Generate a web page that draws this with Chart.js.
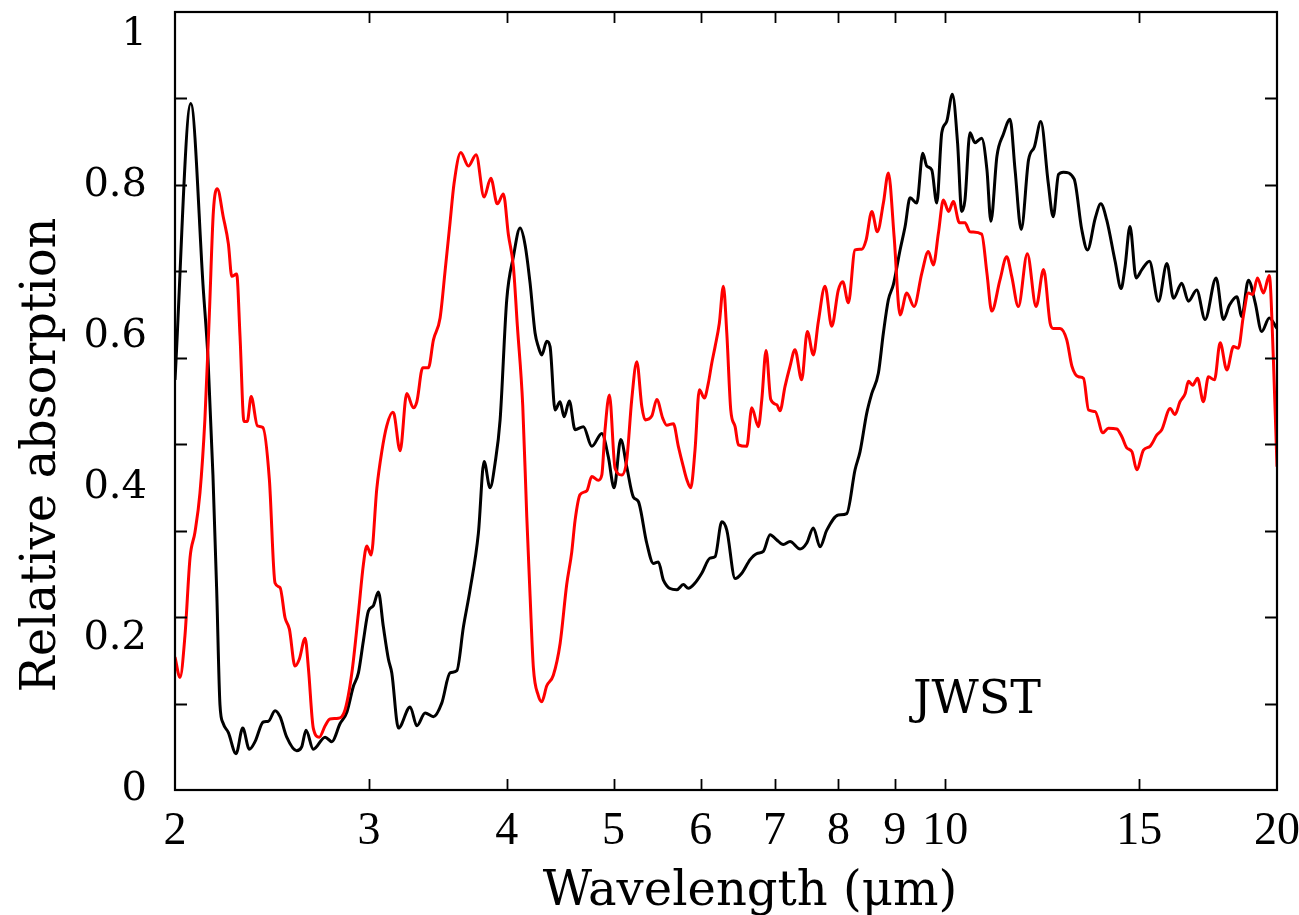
<!DOCTYPE html>
<html>
<head>
<meta charset="utf-8">
<script src="https://cdn.jsdelivr.net/npm/chart.js@4.4.1/dist/chart.umd.min.js"></script>
<style>
  html,body{margin:0;padding:0;background:#fff}
  #wrap{width:1299px;height:915px;position:relative}
</style>
</head>
<body>
<div id="wrap"><canvas id="chart"></canvas></div>
<script>
// Black spectrum (wavelength in um, relative absorption)
const blackWavelength = [2.00,2.067,2.122,2.143,2.165,2.182,2.197,2.212,2.236,2.272,2.304,2.336,2.364,2.405,2.431,2.465,2.491,2.526,2.579,2.606,2.630,2.670,2.737,2.775,2.824,2.864,2.903,2.934,2.965,2.996,3.027,3.059,3.091,3.124,3.146,3.190,3.269,3.315,3.373,3.432,3.492,3.553,3.604,3.654,3.705,3.770,3.815,3.863,3.904,3.945,4.000,4.056,4.113,4.156,4.200,4.244,4.273,4.304,4.349,4.379,4.425,4.472,4.509,4.559,4.614,4.695,4.778,4.879,4.946,5.006,5.076,5.140,5.211,5.266,5.359,5.434,5.491,5.549,5.706,5.785,5.846,5.928,6.012,6.117,6.182,6.269,6.335,6.446,6.537,6.651,6.745,6.838,6.935,7.033,7.129,7.230,7.383,7.487,7.591,7.698,7.807,7.998,8.140,8.282,8.369,8.487,8.577,8.696,8.787,8.879,8.972,9.099,9.195,9.291,9.422,9.541,9.621,9.722,9.824,9.927,10.03,10.15,10.26,10.35,10.42,10.53,10.64,10.79,10.91,11.00,11.14,11.29,11.45,11.57,11.72,11.90,12.05,12.21,12.40,12.53,12.67,12.80,13.09,13.30,13.46,13.68,13.84,14.01,14.26,14.44,14.56,14.71,14.90,15.08,15.32,15.61,15.89,16.11,16.39,16.62,16.91,17.21,17.61,17.88,18.11,18.39,18.58,18.84,19.11,19.37,19.68,20.0];
const blackAbsorption = [0.543,0.909,0.662,0.57,0.417,0.265,0.113,0.088,0.076,0.048,0.082,0.054,0.064,0.09,0.091,0.105,0.097,0.07,0.052,0.057,0.079,0.054,0.07,0.064,0.088,0.103,0.137,0.155,0.198,0.237,0.244,0.262,0.216,0.173,0.155,0.082,0.11,0.085,0.102,0.097,0.115,0.155,0.158,0.216,0.265,0.34,0.435,0.40,0.433,0.49,0.649,0.706,0.744,0.722,0.671,0.605,0.587,0.576,0.594,0.587,0.503,0.514,0.494,0.515,0.477,0.481,0.455,0.472,0.441,0.40,0.464,0.428,0.388,0.382,0.327,0.30,0.302,0.278,0.265,0.272,0.267,0.274,0.287,0.307,0.309,0.355,0.344,0.28,0.287,0.305,0.313,0.316,0.338,0.331,0.325,0.329,0.319,0.327,0.347,0.322,0.344,0.364,0.366,0.424,0.448,0.499,0.525,0.552,0.605,0.649,0.669,0.715,0.746,0.784,0.777,0.843,0.826,0.821,0.777,0.87,0.885,0.921,0.857,0.766,0.781,0.87,0.857,0.863,0.821,0.753,0.839,0.868,0.888,0.821,0.742,0.834,0.852,0.885,0.804,0.759,0.815,0.818,0.809,0.742,0.715,0.757,0.776,0.755,0.70,0.664,0.693,0.746,0.678,0.689,0.70,0.647,0.697,0.651,0.671,0.647,0.662,0.623,0.678,0.623,0.642,0.653,0.627,0.675,0.645,0.607,0.625,0.611];

// Red spectrum
const redWavelength = [2.00,2.021,2.042,2.064,2.085,2.107,2.129,2.149,2.167,2.185,2.212,2.236,2.252,2.275,2.291,2.310,2.326,2.345,2.376,2.403,2.436,2.465,2.491,2.517,2.540,2.570,2.593,2.625,2.643,2.670,2.704,2.737,2.765,2.814,2.853,2.894,2.934,2.965,2.986,3.013,3.049,3.081,3.113,3.152,3.161,3.201,3.246,3.291,3.315,3.356,3.396,3.432,3.480,3.517,3.553,3.583,3.634,3.692,3.752,3.815,3.869,3.922,3.972,4.014,4.056,4.090,4.136,4.171,4.200,4.229,4.273,4.304,4.349,4.409,4.472,4.534,4.582,4.614,4.662,4.728,4.778,4.844,4.879,4.912,4.957,5.016,5.087,5.140,5.194,5.249,5.304,5.341,5.416,5.473,5.542,5.588,5.666,5.725,5.785,5.827,5.875,5.928,5.982,6.045,6.096,6.139,6.182,6.237,6.290,6.335,6.388,6.446,6.490,6.605,6.675,6.767,6.816,6.877,6.945,7.033,7.080,7.154,7.230,7.305,7.408,7.496,7.591,7.670,7.778,7.888,7.998,8.072,8.167,8.282,8.399,8.475,8.577,8.677,8.787,8.879,8.986,9.099,9.227,9.369,9.521,9.653,9.754,9.857,9.961,10.07,10.17,10.30,10.42,10.53,10.79,10.91,11.02,11.21,11.37,11.49,11.65,11.87,12.09,12.28,12.45,12.53,12.71,12.89,13.03,13.21,13.35,13.49,13.68,13.90,14.06,14.31,14.46,14.61,14.77,14.92,15.13,15.34,15.56,15.72,16.00,16.16,16.33,16.51,16.62,16.77,16.94,17.15,17.33,17.55,17.76,18.01,18.26,18.45,18.64,18.84,19.01,19.20,19.44,19.68,19.85,20.0];
const redAbsorption = [0.176,0.149,0.204,0.308,0.341,0.393,0.491,0.631,0.766,0.796,0.759,0.723,0.68,0.683,0.601,0.488,0.488,0.521,0.482,0.48,0.411,0.274,0.268,0.228,0.213,0.164,0.173,0.201,0.161,0.082,0.07,0.085,0.094,0.095,0.106,0.155,0.234,0.299,0.323,0.311,0.399,0.448,0.482,0.50,0.498,0.449,0.525,0.506,0.514,0.559,0.559,0.596,0.625,0.688,0.751,0.803,0.844,0.826,0.841,0.785,0.81,0.776,0.789,0.735,0.693,0.614,0.509,0.362,0.257,0.162,0.125,0.117,0.138,0.152,0.194,0.272,0.315,0.357,0.391,0.396,0.415,0.41,0.417,0.477,0.523,0.426,0.417,0.437,0.517,0.567,0.508,0.49,0.495,0.517,0.492,0.483,0.485,0.455,0.428,0.411,0.40,0.45,0.53,0.519,0.539,0.565,0.587,0.618,0.667,0.605,0.503,0.481,0.457,0.455,0.506,0.481,0.517,0.582,0.517,0.51,0.502,0.534,0.561,0.583,0.543,0.607,0.576,0.62,0.667,0.614,0.662,0.673,0.645,0.715,0.716,0.728,0.766,0.739,0.777,0.817,0.733,0.629,0.658,0.64,0.684,0.713,0.695,0.737,0.781,0.766,0.779,0.751,0.751,0.739,0.736,0.684,0.634,0.675,0.706,0.68,0.64,0.71,0.64,0.689,0.618,0.611,0.611,0.596,0.561,0.547,0.545,0.503,0.501,0.473,0.479,0.478,0.468,0.453,0.448,0.424,0.45,0.455,0.47,0.477,0.505,0.497,0.514,0.525,0.541,0.536,0.545,0.514,0.547,0.543,0.592,0.556,0.587,0.585,0.627,0.658,0.656,0.678,0.658,0.681,0.57,0.428];

// Axis labels and frame tick marks
const xTickValues = [2,3,4,5,6,7,8,9,10,15,20];
const yTickValues = [0,0.2,0.4,0.6,0.8,1];
const xMarkValues = [3,4,5,6,7,8,9,10,15];
const yMarkValues = [0.1,0.2,0.3,0.4,0.5,0.6,0.7,0.8];   // on the 0..0.9 frame scale
const xTitle = 'Wavelength (\u03bcm)';
const yTitle = 'Relative absorption';
const tagText = 'JWST';
const tagAt = {x: 9.35, y: 0.102};

const pts = (xs, ys) => xs.map((x, i) => ({x, y: ys[i]}));
const SERIF = '"DejaVu Serif", serif';

// frame, inward ticks and free text
const decor = {
  id: 'decor',
  afterDatasetsDraw(chart){
    const {ctx, chartArea:a, scales} = chart;
    const x = scales.x, yt = scales.yt;
    ctx.save();
    ctx.strokeStyle = '#000';
    ctx.lineWidth = 2.2;
    ctx.strokeRect(a.left, a.top, a.right - a.left, a.bottom - a.top);
    ctx.beginPath();
    xMarkValues.forEach(v => {
      const px = Math.round(x.getPixelForValue(v)) + 0.5;
      ctx.moveTo(px, a.bottom); ctx.lineTo(px, a.bottom - 11);
      ctx.moveTo(px, a.top);    ctx.lineTo(px, a.top + 11);
    });
    yMarkValues.forEach(v => {
      const py = Math.round(yt.getPixelForValue(v)) + 0.5;
      ctx.moveTo(a.left, py);  ctx.lineTo(a.left + 12, py);
      ctx.moveTo(a.right, py); ctx.lineTo(a.right - 12, py);
    });
    ctx.lineWidth = 1.8;
    ctx.stroke();
    ctx.restore();
  },
  afterDraw(chart){
    const {ctx, scales} = chart;
    ctx.save();
    ctx.fillStyle = '#000';
    ctx.font = '48px ' + SERIF;
    ctx.textAlign = 'center';
    ctx.textBaseline = 'alphabetic';
    ctx.fillText(xTitle, 750, 905);
    ctx.save();
    ctx.translate(55, 455);
    ctx.rotate(-Math.PI / 2);
    ctx.fillText(yTitle, 0, 0);
    ctx.restore();
    ctx.font = '46px ' + SERIF;
    ctx.textAlign = 'left';
    ctx.fillText(tagText, scales.x.getPixelForValue(tagAt.x), scales.y.getPixelForValue(tagAt.y));
    ctx.restore();
  }
};

new Chart(document.getElementById('chart'), {
  type: 'line',
  data: {
    datasets: [
      { data: pts(redWavelength, redAbsorption), borderColor:'#ff0000', borderWidth:3, pointRadius:0, cubicInterpolationMode:'monotone', fill:false },
      { data: pts(blackWavelength, blackAbsorption), borderColor:'#000000', borderWidth:3, pointRadius:0, cubicInterpolationMode:'monotone', fill:false }
    ]
  },
  options: {
    responsive: true,
    maintainAspectRatio: false,
    animation: false,
    parsing: false,
    layout: { padding: { top: 12, right: 22, left: 0, bottom: 0 } },
    plugins: { legend: { display:false }, tooltip: { enabled:false } },
    scales: {
      x: {
        type: 'logarithmic', min: 2, max: 20,
        grid: { display:false, drawTicks:false },
        border: { display:false },
        afterBuildTicks: s => { s.ticks = xTickValues.map(v => ({value:v})); },
        afterFit: s => { s.height = 125; s.paddingLeft = 0; s.paddingRight = 0; },
        ticks: { color:'#000', padding:14, maxRotation:0, autoSkip:false,
          font: { family:'"Liberation Serif", serif', size:46 },
          callback: v => String(v) }
      },
      y: {
        type: 'linear', min: 0, max: 1.03,
        grid: { display:false, drawTicks:false },
        border: { display:false },
        afterBuildTicks: s => { s.ticks = yTickValues.map(v => ({value:v})); },
        afterFit: s => { s.width = 175; s.paddingTop = 0; s.paddingBottom = 0; },
        ticks: { color:'#000', padding:28, font: { family:SERIF, size:40 },
          callback: v => String(v) }
      },
      yt: { type:'linear', min:0, max:0.9, display:false }
    }
  },
  plugins: [decor]
});
</script>
</body>
</html>
